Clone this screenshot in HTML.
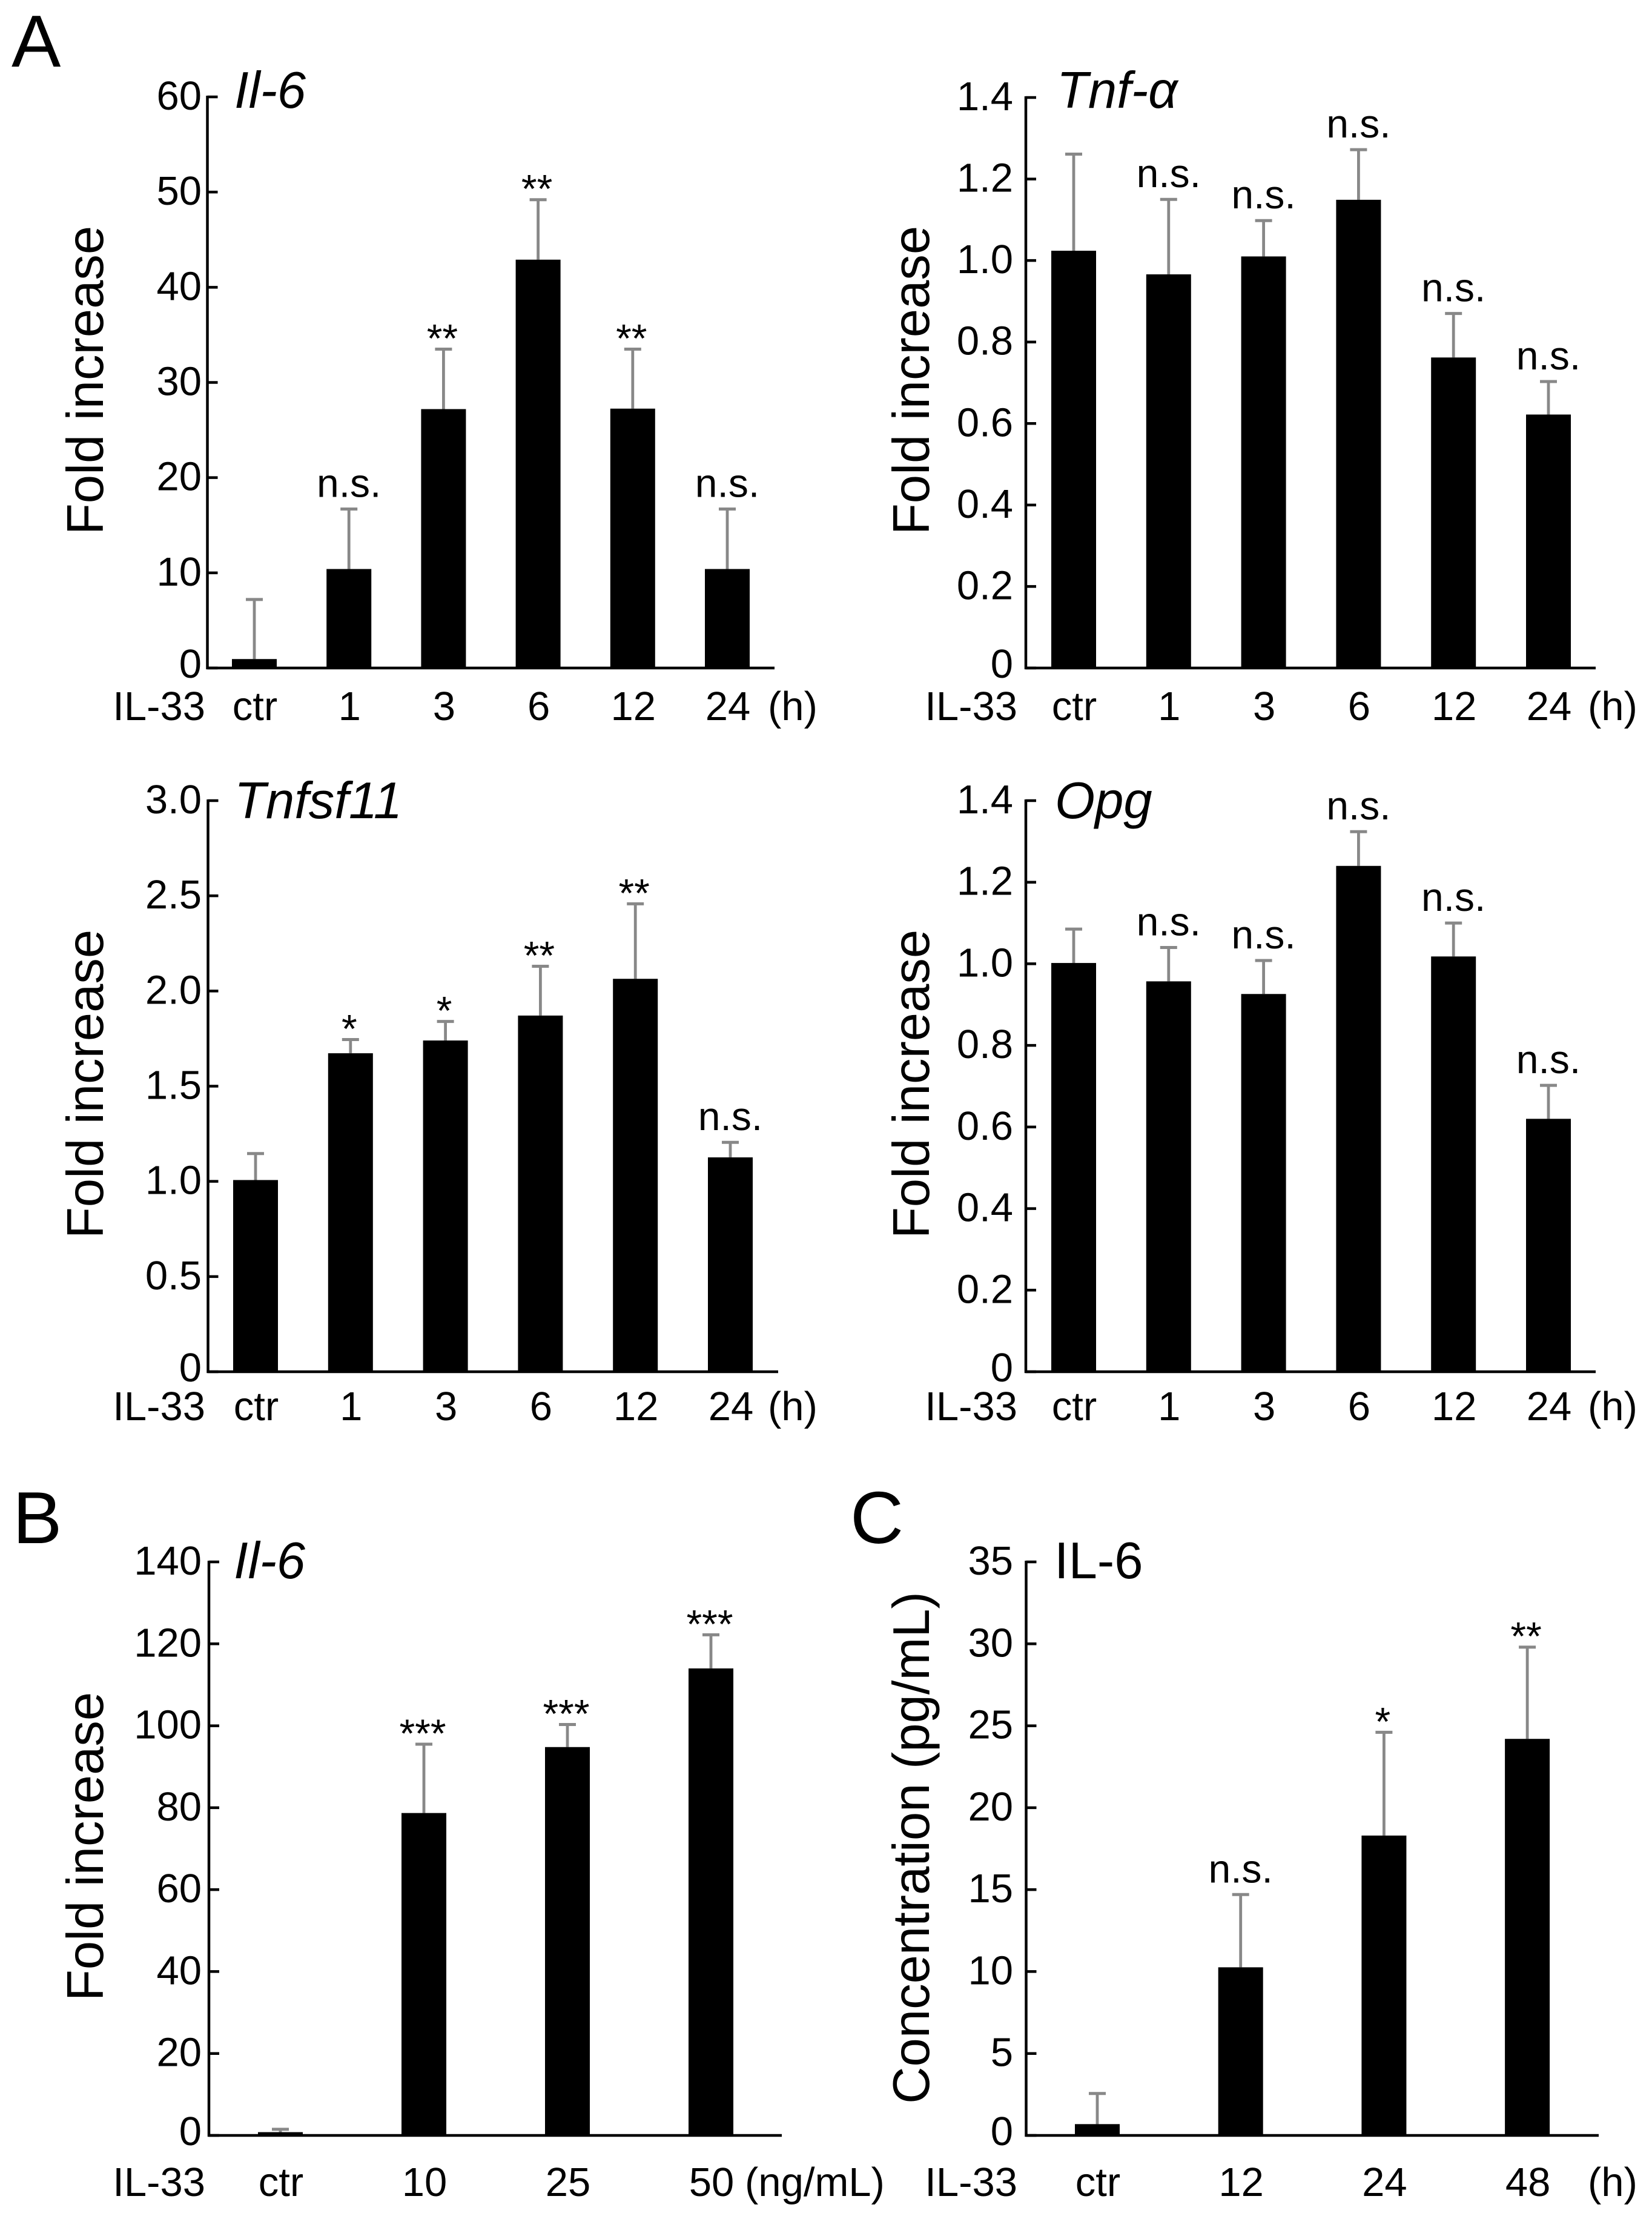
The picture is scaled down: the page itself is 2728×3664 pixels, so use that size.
<!DOCTYPE html>
<html lang="en">
<head>
<meta charset="utf-8">
<title>IL-33 induced cytokine expression bar charts</title>
<style>
html,body{margin:0;padding:0;background:#fff;}
svg{display:block;font-family:"Liberation Sans",Arial,sans-serif;}
</style>
</head>
<body>
<svg id="figure" xmlns="http://www.w3.org/2000/svg" width="2728" height="3664" viewBox="0 0 2728 3664">
<rect x="0" y="0" width="2728" height="3664" fill="#ffffff"/>
</svg>
<script>
const timeCategories = ['ctr', '1', '3', '6', '12', '24'];
const doseCategories = ['ctr', '10', '25', '50'];
const elisaCategories = ['ctr', '12', '24', '48'];

const il6Ticks = ['0', '10', '20', '30', '40', '50', '60'];
const tnfTicks = ['0', '0.2', '0.4', '0.6', '0.8', '1.0', '1.2', '1.4'];
const tnfsfTicks = ['0', '0.5', '1.0', '1.5', '2.0', '2.5', '3.0'];
const opgTicks = ['0', '0.2', '0.4', '0.6', '0.8', '1.0', '1.2', '1.4'];
const doseTicks = ['0', '20', '40', '60', '80', '100', '120', '140'];
const elisaTicks = ['0', '5', '10', '15', '20', '25', '30', '35'];

const il6Values = [0.94, 10.4, 27.2, 42.9, 27.25, 10.4];
const il6Upper = [7.2, 16.7, 33.5, 49.2, 33.5, 16.7];
const il6Sig = ['', 'n.s.', '**', '**', '**', 'n.s.'];

const tnfValues = [1.024, 0.966, 1.01, 1.149, 0.762, 0.622];
const tnfUpper = [1.261, 1.15, 1.098, 1.272, 0.87, 0.703];
const tnfSig = ['', 'n.s.', 'n.s.', 'n.s.', 'n.s.', 'n.s.'];

const tnfsfValues = [1.007, 1.673, 1.74, 1.871, 2.064, 1.126];
const tnfsfUpper = [1.146, 1.745, 1.84, 2.13, 2.458, 1.205];
const tnfsfSig = ['', '*', '*', '**', '**', 'n.s.'];

const opgValues = [1.002, 0.957, 0.926, 1.24, 1.018, 0.62];
const opgUpper = [1.085, 1.04, 1.008, 1.324, 1.1, 0.702];
const opgSig = ['', 'n.s.', 'n.s.', 'n.s.', 'n.s.', 'n.s.'];

const doseValues = [0.8, 78.7, 94.8, 114];
const doseUpper = [1.5, 95.5, 100.3, 122.2];
const doseSig = ['', '***', '***', '***'];

const elisaValues = [0.69, 10.26, 18.3, 24.2];
const elisaUpper = [2.56, 14.7, 24.6, 29.8];
const elisaSig = ['', 'n.s.', '*', '**'];

const NS = 'http://www.w3.org/2000/svg';
const svg = document.getElementById('figure');
const FONT_TICK = 67, FONT_TITLE = 85, FONT_SIG = 66, FONT_LETTER = 122;
const BAR_W = 74, CAP_W = 28;

function add(parent, tag, props, text) {
  const el = document.createElementNS(NS, tag);
  for (const k in props) el.setAttribute(k, props[k]);
  if (text !== undefined) el.textContent = text;
  parent.appendChild(el);
  return el;
}

function drawPanel(p) {
  const g = add(svg, 'g', {});
  
  

  const yMax = Number(p.ticks[p.ticks.length - 1]);
  const yScale = v => p.yBase - (v / yMax) * (p.yBase - p.yTop);
  const xScale = i => p.xFirst + i * p.xStep;

  p.values.forEach((v, i) => {
    const cx = xScale(i);
    const err = add(g, 'line', {x1: cx, x2: cx, y1: yScale(v), y2: yScale(p.upper[i]), stroke: '#888888', 'stroke-width': 4.8});
    
    
    const cap = add(g, 'line', {x1: cx - CAP_W / 2, x2: cx + CAP_W / 2, y1: yScale(p.upper[i]), y2: yScale(p.upper[i]), stroke: '#888888', 'stroke-width': 5});
    
    
    const bar = add(g, 'rect', {x: cx - BAR_W / 2, y: yScale(v), width: BAR_W, height: p.yBase - yScale(v), fill: '#000'});
    
    

    const sig = p.sig[i];
    if (sig) {
      const isNs = sig === 'n.s.';
      const s = add(g, 'text', {x: cx - (isNs ? 0 : 2), y: yScale(p.upper[i]) + (isNs ? -20 : 5), 'text-anchor': 'middle', 'font-size': FONT_SIG, fill: '#000'}, sig);
      
      
    }

    const lab = add(g, 'text', {x: cx + 1, y: p.labelY, 'text-anchor': 'middle', 'font-size': FONT_TICK, fill: '#000'}, p.categories[i]);
    
    
  });

  const yAxis = add(g, 'line', {x1: p.x0, x2: p.x0, y1: p.yTop - 2, y2: p.yBase + 2, stroke: '#000', 'stroke-width': 4.5});
  
  
  const xAxis = add(g, 'line', {x1: p.x0 - 2, x2: p.xEnd, y1: p.yBase, y2: p.yBase, stroke: '#000', 'stroke-width': 4.5});
  
  

  p.ticks.forEach(t => {
    const y = yScale(Number(t));
    const tick = add(g, 'line', {x1: p.x0, x2: p.x0 + 17, y1: y, y2: y, stroke: '#000', 'stroke-width': 4.5});
    
    
    const lab = add(g, 'text', {x: p.tickRight, y: y + (Number(t) === 0 ? 16 : 21), 'text-anchor': 'end', 'font-size': FONT_TICK, fill: '#000'}, t);
    
    
  });

  const yTitle = add(g, 'text', {x: 0, y: 0, 'text-anchor': 'middle', 'font-size': FONT_TITLE, fill: '#000', transform: 'translate(' + p.yTitleX + ' ' + p.yTitleY + ') rotate(-90)'}, p.yTitle);
  
  

  const title = add(g, 'text', {x: p.titleX, y: p.titleY, 'font-size': FONT_TITLE, 'font-style': p.italic ? 'italic' : 'normal', fill: '#000'}, p.title);
  
  

  const il = add(g, 'text', {x: p.il33Right, y: p.labelY, 'text-anchor': 'end', 'font-size': FONT_TICK, fill: '#000'}, 'IL-33');
  
  

  const unit = add(g, 'text', {x: p.unitX, y: p.labelY, 'font-size': FONT_TICK, fill: '#000'}, p.unit);
  
  
}

drawPanel({id: 'il6-time', categories: timeCategories, ticks: il6Ticks, values: il6Values, upper: il6Upper, sig: il6Sig,
  x0: 342.5, xEnd: 1279, yTop: 160, yBase: 1103, xFirst: 420, xStep: 156.2, labelY: 1189, tickRight: 333,
  yTitle: 'Fold increase', yTitleX: 170, yTitleY: 628, title: 'Il-6', italic: true, titleX: 387, titleY: 178, il33Right: 339, unitX: 1268, unit: '(h)'});

drawPanel({id: 'tnf-alpha', categories: timeCategories, ticks: tnfTicks, values: tnfValues, upper: tnfUpper, sig: tnfSig,
  x0: 1694, xEnd: 2635, yTop: 161, yBase: 1103, xFirst: 1773, xStep: 156.8, labelY: 1189, tickRight: 1673,
  yTitle: 'Fold increase', yTitleX: 1534, yTitleY: 628, title: 'Tnf-α', italic: true, titleX: 1745, titleY: 178, il33Right: 1680, unitX: 2622, unit: '(h)'});

drawPanel({id: 'tnfsf11', categories: timeCategories, ticks: tnfsfTicks, values: tnfsfValues, upper: tnfsfUpper, sig: tnfsfSig,
  x0: 343.5, xEnd: 1285, yTop: 1322, yBase: 2265, xFirst: 422, xStep: 156.8, labelY: 2345, tickRight: 333,
  yTitle: 'Fold increase', yTitleX: 170, yTitleY: 1790, title: 'Tnfsf11', italic: true, titleX: 387, titleY: 1351, il33Right: 339, unitX: 1268, unit: '(h)'});

drawPanel({id: 'opg', categories: timeCategories, ticks: opgTicks, values: opgValues, upper: opgUpper, sig: opgSig,
  x0: 1694, xEnd: 2635, yTop: 1322, yBase: 2265, xFirst: 1773, xStep: 156.8, labelY: 2345, tickRight: 1673,
  yTitle: 'Fold increase', yTitleX: 1534, yTitleY: 1790, title: 'Opg', italic: true, titleX: 1742, titleY: 1351, il33Right: 1680, unitX: 2622, unit: '(h)'});

drawPanel({id: 'il6-dose', categories: doseCategories, ticks: doseTicks, values: doseValues, upper: doseUpper, sig: doseSig,
  x0: 345, xEnd: 1291, yTop: 2579, yBase: 3526, xFirst: 463, xStep: 237, labelY: 3626, tickRight: 333,
  yTitle: 'Fold increase', yTitleX: 170, yTitleY: 3049, title: 'Il-6', italic: true, titleX: 386, titleY: 2606, il33Right: 339, unitX: 1230, unit: '(ng/mL)'});

drawPanel({id: 'il6-elisa', categories: elisaCategories, ticks: elisaTicks, values: elisaValues, upper: elisaUpper, sig: elisaSig,
  x0: 1694.5, xEnd: 2640, yTop: 2579, yBase: 3526, xFirst: 1812, xStep: 236.7, labelY: 3626, tickRight: 1673,
  yTitle: 'Concentration (pg/mL)', yTitleX: 1534, yTitleY: 3051, title: 'IL-6', italic: false, titleX: 1741, titleY: 2606, il33Right: 1680, unitX: 2622, unit: '(h)'});

const letterA = add(svg, 'text', {x: 19, y: 110, 'font-size': FONT_LETTER, fill: '#000'}, 'A');


const letterB = add(svg, 'text', {x: 21, y: 2548, 'font-size': FONT_LETTER, fill: '#000'}, 'B');


const letterC = add(svg, 'text', {x: 1404, y: 2548, 'font-size': FONT_LETTER, fill: '#000'}, 'C');


</script>
</body>
</html>
